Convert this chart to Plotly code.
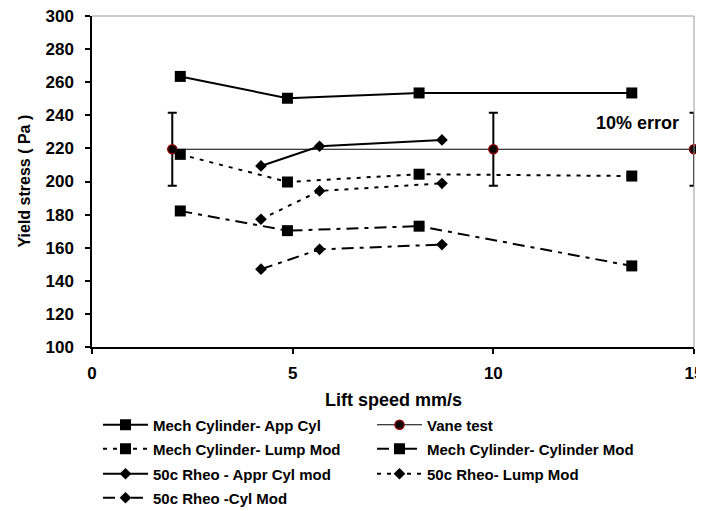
import plotly.graph_objects as go

# ---- data ----
mech_x = [2.2, 4.87, 8.15, 13.45]
mech_app_cyl = [263.5, 250.3, 253.5, 253.5]
mech_lump = [216.4, 199.7, 204.4, 203.3]
mech_cyl_mod = [182.2, 170.3, 173.0, 149.0]

rheo_x = [4.21, 5.67, 8.72]
rheo_appr_cyl = [209.4, 221.3, 225.1]
rheo_lump = [177.2, 194.3, 198.9]
rheo_cyl_mod = [147.0, 159.0, 161.9]

vane_x = [2, 10, 15]
vane_y = [219.5, 219.5, 219.5]
vane_err = [22, 22, 22]

FONT = "Arial, Liberation Sans, sans-serif"

fig = go.Figure()

def add(name, x, y, symbol, size, dash, legend, width=2):
    fig.add_trace(go.Scatter(
        x=x, y=y, name=name, mode="lines+markers",
        line=dict(color="black", width=width, dash=dash),
        marker=dict(symbol=symbol, size=size, color="black"),
        legend=legend,
    ))

add("Mech Cylinder- App Cyl", mech_x, mech_app_cyl, "square", 11, "solid", "legend")
fig.add_trace(go.Scatter(
    x=vane_x, y=vane_y, name="Vane test", mode="lines+markers",
    line=dict(color="black", width=1.2),
    marker=dict(symbol="circle", size=9, color="black",
                line=dict(color="#8b0000", width=1.5)),
    error_y=dict(type="data", array=vane_err, visible=True,
                 color="black", thickness=2, width=4.5),
    cliponaxis=False,
    legend="legend",
))
add("Mech Cylinder- Lump Mod", mech_x, mech_lump, "square", 11, "4px,6px", "legend2")
add("Mech Cylinder- Cylinder Mod", mech_x, mech_cyl_mod, "square", 11, "12px,6px,4px,6px", "legend2")
add("50c Rheo - Appr Cyl mod", rheo_x, rheo_appr_cyl, "diamond", 9, "solid", "legend3")
add("50c Rheo- Lump Mod", rheo_x, rheo_lump, "diamond", 9, "4px,6px", "legend3")
add("50c Rheo -Cyl Mod", rheo_x, rheo_cyl_mod, "diamond", 9, "12px,6px,4px,6px", "legend4")

# page body has an 8px margin: figure drawn 8px smaller, offsets compensated
W, H = 696, 503
row_y = [417, 441, 466, 490]

def leg(i):
    return dict(
        orientation="h", xref="container", yref="container",
        x=90 / W, y=1 - row_y[i] / H, xanchor="left", yanchor="middle",
        entrywidth=214, itemwidth=45,
        font=dict(family=FONT, size=15, color="black", weight="bold"),
        bgcolor="rgba(0,0,0,0)", borderwidth=0,
    )

fig.update_layout(
    width=W, height=H,
    margin=dict(l=84, r=10, t=8, b=164, autoexpand=False),
    paper_bgcolor="white", plot_bgcolor="white",
    font=dict(family=FONT, color="black"),
    showlegend=True,
    legend=leg(0), legend2=leg(1), legend3=leg(2), legend4=leg(3),
    xaxis=dict(
        range=[0, 15], tickvals=[0, 5, 10, 15],
        showgrid=False, zeroline=False,
        showline=True, linecolor="black", linewidth=1.5,
        ticks="outside", ticklen=5, tickcolor="black", tickwidth=1.5,
        ticklabelstandoff=5, ticklabeloverflow="allow",
        tickfont=dict(family=FONT, size=17, color="black", weight="bold"),
    ),
    yaxis=dict(
        range=[100, 300], tickvals=list(range(100, 301, 20)),
        showgrid=False, zeroline=False,
        showline=True, linecolor="black", linewidth=1.5,
        ticks="outside", ticklen=5, tickcolor="black", tickwidth=1.5,
        ticklabelstandoff=8, ticklabeloverflow="allow",
        tickfont=dict(family=FONT, size=17, color="black", weight="bold"),
    ),
    shapes=[
        dict(type="line", xref="paper", yref="paper", x0=0, x1=1, y0=1, y1=1,
             line=dict(color="#9a9a9a", width=1)),
        dict(type="line", xref="paper", yref="paper", x0=1, x1=1, y0=0, y1=1,
             line=dict(color="#9a9a9a", width=1)),
    ],
    annotations=[
        dict(text="Lift speed mm/s", xref="paper", yref="paper", x=0.5, y=0,
             yanchor="middle", yshift=-53, showarrow=False,
             font=dict(family=FONT, size=18, color="black", weight="bold")),
        dict(text="Yield stress ( Pa )", xref="paper", yref="paper", x=0, y=0.5,
             xanchor="center", xshift=-68, textangle=-90, showarrow=False,
             font=dict(family=FONT, size=16, color="black", weight="bold")),
        dict(text="10% error", x=13.6, y=235.2, xref="x", yref="y",
             showarrow=False,
             font=dict(family=FONT, size=18, color="black", weight="bold")),
    ],
)

fig.write_html("out.html")
